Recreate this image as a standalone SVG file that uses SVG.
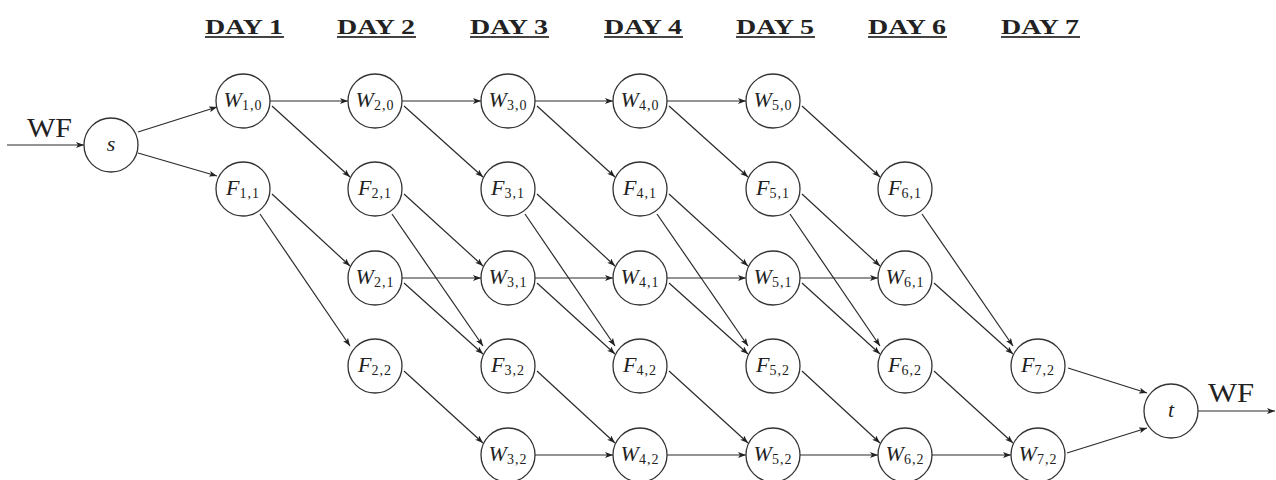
<svg xmlns="http://www.w3.org/2000/svg" width="1276" height="480" viewBox="0 0 1276 480">
<style>
.bg{fill:#fff}
.e line{stroke:#2a2a2a;stroke-width:1.2;marker-end:url(#ah)}
.n circle{fill:#fff;stroke:#333;stroke-width:1.3}
.lb{font-family:"Liberation Serif",serif;font-style:italic;font-size:22px;fill:#222;text-anchor:middle}
.sb{font-size:14px;font-style:normal;letter-spacing:1px}
.hd{font-family:"Liberation Serif",serif;font-weight:bold;font-size:20px;fill:#222;text-anchor:middle}
.ul{stroke:#444;stroke-width:2}
.wf{font-family:"Liberation Serif",serif;font-size:28px;fill:#222}
</style>
<defs>
<marker id="ah" viewBox="0 0 8 6" refX="8" refY="3" markerWidth="8" markerHeight="6" markerUnits="userSpaceOnUse" orient="auto">
<path d="M0,0 L8,3 L0,6 L2,3 z" fill="#222"/>
</marker>
</defs>
<rect class="bg" x="0" y="0" width="1276" height="480"/>
<g id="headers">
<text class="hd" x="244" y="34" textLength="78" lengthAdjust="spacingAndGlyphs">DAY 1</text>
<line class="ul" x1="205" y1="37" x2="284" y2="37"/>
<text class="hd" x="376" y="34" textLength="78" lengthAdjust="spacingAndGlyphs">DAY 2</text>
<line class="ul" x1="337" y1="37" x2="416" y2="37"/>
<text class="hd" x="509" y="34" textLength="78" lengthAdjust="spacingAndGlyphs">DAY 3</text>
<line class="ul" x1="470" y1="37" x2="549" y2="37"/>
<text class="hd" x="643" y="34" textLength="78" lengthAdjust="spacingAndGlyphs">DAY 4</text>
<line class="ul" x1="604" y1="37" x2="683" y2="37"/>
<text class="hd" x="775" y="34" textLength="78" lengthAdjust="spacingAndGlyphs">DAY 5</text>
<line class="ul" x1="736" y1="37" x2="815" y2="37"/>
<text class="hd" x="907" y="34" textLength="78" lengthAdjust="spacingAndGlyphs">DAY 6</text>
<line class="ul" x1="868" y1="37" x2="947" y2="37"/>
<text class="hd" x="1040" y="34" textLength="78" lengthAdjust="spacingAndGlyphs">DAY 7</text>
<line class="ul" x1="1001" y1="37" x2="1080" y2="37"/>
</g>
<text class="wf" x="27" y="137" textLength="45" lengthAdjust="spacingAndGlyphs">WF</text>
<text class="wf" x="1208" y="402" textLength="46" lengthAdjust="spacingAndGlyphs">WF</text>
<g id="connectors" class="e">
<line x1="7" y1="145" x2="84" y2="145"/>
<line x1="138" y1="132" x2="217" y2="107"/>
<line x1="138" y1="153" x2="217" y2="176"/>
<line x1="1068" y1="368" x2="1147" y2="393"/>
<line x1="1067" y1="453" x2="1147" y2="428"/>
<line x1="1198" y1="411" x2="1275" y2="411"/>
<line x1="270" y1="101" x2="348" y2="101"/>
<line x1="402" y1="101" x2="481" y2="101"/>
<line x1="535" y1="101" x2="613" y2="101"/>
<line x1="667" y1="101" x2="746" y2="101"/>
<line x1="402" y1="278" x2="481" y2="278"/>
<line x1="535" y1="278" x2="613" y2="278"/>
<line x1="667" y1="278" x2="746" y2="278"/>
<line x1="800" y1="278" x2="878" y2="278"/>
<line x1="535" y1="455" x2="613" y2="455"/>
<line x1="667" y1="455" x2="746" y2="455"/>
<line x1="800" y1="455" x2="878" y2="455"/>
<line x1="932" y1="455" x2="1011" y2="455"/>
<line x1="272" y1="106" x2="350" y2="177"/>
<line x1="404" y1="106" x2="483" y2="177"/>
<line x1="537" y1="106" x2="615" y2="177"/>
<line x1="669" y1="106" x2="748" y2="177"/>
<line x1="802" y1="106" x2="880" y2="177"/>
<line x1="272" y1="194" x2="350" y2="266"/>
<line x1="404" y1="194" x2="483" y2="266"/>
<line x1="537" y1="194" x2="615" y2="266"/>
<line x1="669" y1="194" x2="748" y2="266"/>
<line x1="802" y1="194" x2="880" y2="266"/>
<line x1="404" y1="283" x2="483" y2="354"/>
<line x1="537" y1="283" x2="615" y2="354"/>
<line x1="669" y1="283" x2="748" y2="354"/>
<line x1="802" y1="283" x2="880" y2="354"/>
<line x1="934" y1="283" x2="1013" y2="354"/>
<line x1="404" y1="371" x2="483" y2="443"/>
<line x1="537" y1="371" x2="615" y2="443"/>
<line x1="669" y1="371" x2="748" y2="443"/>
<line x1="802" y1="371" x2="880" y2="443"/>
<line x1="934" y1="371" x2="1013" y2="443"/>
<line x1="260" y1="214" x2="350" y2="346"/>
<line x1="392" y1="214" x2="483" y2="346"/>
<line x1="525" y1="214" x2="615" y2="346"/>
<line x1="657" y1="214" x2="748" y2="346"/>
<line x1="790" y1="214" x2="880" y2="346"/>
<line x1="922" y1="214" x2="1013" y2="346"/>
</g>
<g id="s" class="n"><circle cx="111" cy="145" r="27"/><text class="lb" x="111" y="151">s</text></g>
<g id="t" class="n"><circle cx="1171" cy="411" r="27"/><text class="lb" x="1171" y="417">t</text></g>
<g id="W1_0" class="n"><circle cx="243" cy="101" r="27"/><text class="lb" x="243" y="107">W<tspan class="sb" dy="3">1,0</tspan></text></g>
<g id="F1_1" class="n"><circle cx="243" cy="189" r="27"/><text class="lb" x="243" y="195">F<tspan class="sb" dy="3">1,1</tspan></text></g>
<g id="W2_0" class="n"><circle cx="375" cy="101" r="27"/><text class="lb" x="375" y="107">W<tspan class="sb" dy="3">2,0</tspan></text></g>
<g id="F2_1" class="n"><circle cx="375" cy="189" r="27"/><text class="lb" x="375" y="195">F<tspan class="sb" dy="3">2,1</tspan></text></g>
<g id="W2_1" class="n"><circle cx="375" cy="278" r="27"/><text class="lb" x="375" y="284">W<tspan class="sb" dy="3">2,1</tspan></text></g>
<g id="F2_2" class="n"><circle cx="375" cy="366" r="27"/><text class="lb" x="375" y="372">F<tspan class="sb" dy="3">2,2</tspan></text></g>
<g id="W3_0" class="n"><circle cx="508" cy="101" r="27"/><text class="lb" x="508" y="107">W<tspan class="sb" dy="3">3,0</tspan></text></g>
<g id="F3_1" class="n"><circle cx="508" cy="189" r="27"/><text class="lb" x="508" y="195">F<tspan class="sb" dy="3">3,1</tspan></text></g>
<g id="W3_1" class="n"><circle cx="508" cy="278" r="27"/><text class="lb" x="508" y="284">W<tspan class="sb" dy="3">3,1</tspan></text></g>
<g id="F3_2" class="n"><circle cx="508" cy="366" r="27"/><text class="lb" x="508" y="372">F<tspan class="sb" dy="3">3,2</tspan></text></g>
<g id="W3_2" class="n"><circle cx="508" cy="455" r="27"/><text class="lb" x="508" y="461">W<tspan class="sb" dy="3">3,2</tspan></text></g>
<g id="W4_0" class="n"><circle cx="640" cy="101" r="27"/><text class="lb" x="640" y="107">W<tspan class="sb" dy="3">4,0</tspan></text></g>
<g id="F4_1" class="n"><circle cx="640" cy="189" r="27"/><text class="lb" x="640" y="195">F<tspan class="sb" dy="3">4,1</tspan></text></g>
<g id="W4_1" class="n"><circle cx="640" cy="278" r="27"/><text class="lb" x="640" y="284">W<tspan class="sb" dy="3">4,1</tspan></text></g>
<g id="F4_2" class="n"><circle cx="640" cy="366" r="27"/><text class="lb" x="640" y="372">F<tspan class="sb" dy="3">4,2</tspan></text></g>
<g id="W4_2" class="n"><circle cx="640" cy="455" r="27"/><text class="lb" x="640" y="461">W<tspan class="sb" dy="3">4,2</tspan></text></g>
<g id="W5_0" class="n"><circle cx="773" cy="101" r="27"/><text class="lb" x="773" y="107">W<tspan class="sb" dy="3">5,0</tspan></text></g>
<g id="F5_1" class="n"><circle cx="773" cy="189" r="27"/><text class="lb" x="773" y="195">F<tspan class="sb" dy="3">5,1</tspan></text></g>
<g id="W5_1" class="n"><circle cx="773" cy="278" r="27"/><text class="lb" x="773" y="284">W<tspan class="sb" dy="3">5,1</tspan></text></g>
<g id="F5_2" class="n"><circle cx="773" cy="366" r="27"/><text class="lb" x="773" y="372">F<tspan class="sb" dy="3">5,2</tspan></text></g>
<g id="W5_2" class="n"><circle cx="773" cy="455" r="27"/><text class="lb" x="773" y="461">W<tspan class="sb" dy="3">5,2</tspan></text></g>
<g id="F6_1" class="n"><circle cx="905" cy="189" r="27"/><text class="lb" x="905" y="195">F<tspan class="sb" dy="3">6,1</tspan></text></g>
<g id="W6_1" class="n"><circle cx="905" cy="278" r="27"/><text class="lb" x="905" y="284">W<tspan class="sb" dy="3">6,1</tspan></text></g>
<g id="F6_2" class="n"><circle cx="905" cy="366" r="27"/><text class="lb" x="905" y="372">F<tspan class="sb" dy="3">6,2</tspan></text></g>
<g id="W6_2" class="n"><circle cx="905" cy="455" r="27"/><text class="lb" x="905" y="461">W<tspan class="sb" dy="3">6,2</tspan></text></g>
<g id="F7_2" class="n"><circle cx="1038" cy="366" r="27"/><text class="lb" x="1038" y="372">F<tspan class="sb" dy="3">7,2</tspan></text></g>
<g id="W7_2" class="n"><circle cx="1038" cy="455" r="27"/><text class="lb" x="1038" y="461">W<tspan class="sb" dy="3">7,2</tspan></text></g>
</svg>
